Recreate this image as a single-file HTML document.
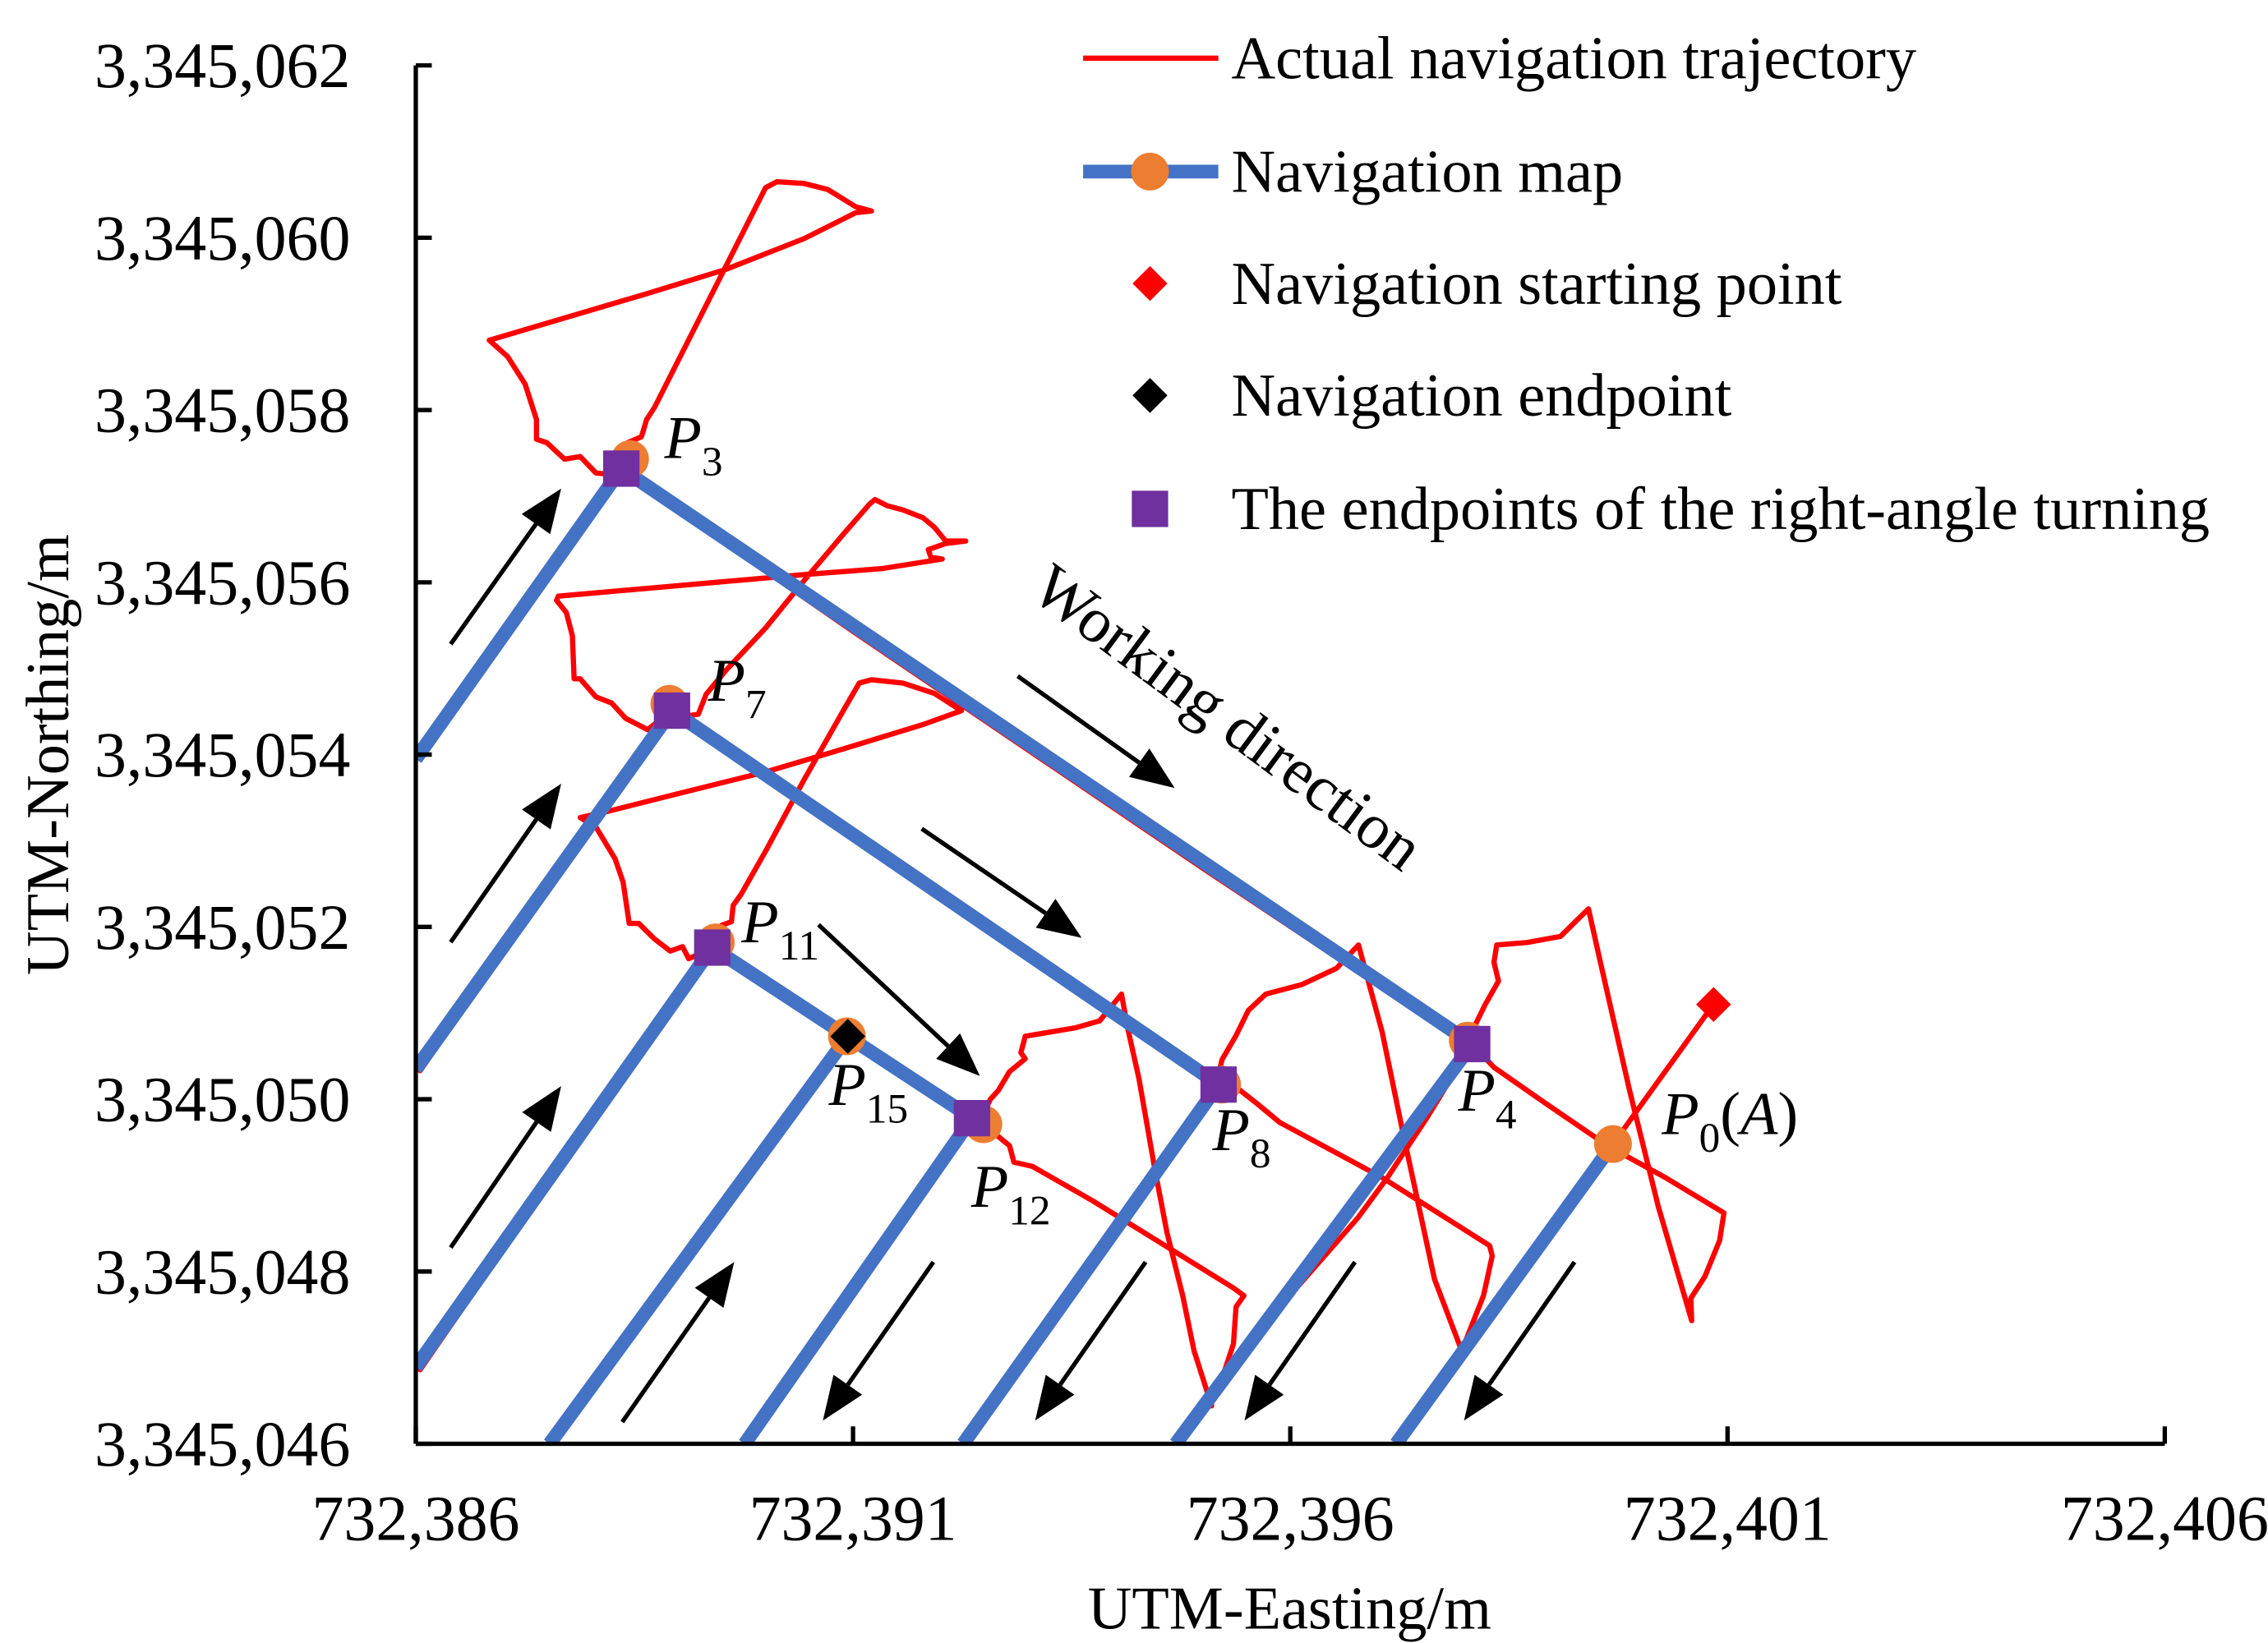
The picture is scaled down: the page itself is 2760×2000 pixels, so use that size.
<!DOCTYPE html>
<html><head><meta charset="utf-8"><style>
html,body{margin:0;padding:0;background:#fff;}
svg{display:block;font-family:"Liberation Serif",serif;}
</style></head><body>
<svg id="chart" xmlns="http://www.w3.org/2000/svg" width="2760" height="2000" viewBox="0 0 1560 1130" preserveAspectRatio="none">
<g id="plot"></g>
<g id="axes"></g>
<g id="legend"></g>
</svg>
<script>
const E0 = 732386, N0 = 3345046;
const xTicks = [732386, 732391, 732396, 732401, 732406];
const xTickLabels = ["732,386","732,391","732,396","732,401","732,406"];
const yTicks = [3345046,3345048,3345050,3345052,3345054,3345056,3345058,3345060,3345062];
const yTickLabels = ["3,345,046","3,345,048","3,345,050","3,345,052","3,345,054","3,345,056","3,345,058","3,345,060","3,345,062"];
// actual trajectory offsets (m from E0/N0), null = break
const trajE = [14.84,13.69,11.96,11.65,11.28,11.05,10.78,10.53,10.13,9.72,9.52,9.38,9.22,9.15,7.72,6.26,null,
9.18,9.38,9.62,9.88,11.05,12.28,12.31,12.21,11.96,null,
12.08,12.10,12.23,12.38,12.33,12.36,12.71,13.09,13.26,13.41,13.54,13.88,14.21,14.59,14.58,14.74,14.91,14.96,14.29,13.63,12.88,12.33,12.08,11.56,11.11,10.77,9.65,null,
2.35,5.0,9.0,12.08,null,
6.36,6.49,6.79,6.84,7.05,7.74,9.35,9.47,9.38,9.35,9.22,9.08,9.10,8.90,8.77,8.59,8.45,8.27,8.14,8.07,7.82,7.55,6.97,6.92,6.97,6.79,6.66,6.57,6.47,6.36,5.22,3.76,null,
2.42,2.42,2.58,2.64,2.73,4.00,4.13,4.44,4.71,5.03,5.21,5.03,4.44,3.54,2.64,1.74,0.84,1.05,1.25,1.38,1.38,1.50,1.70,1.88,2.06,2.24,2.35,null,
2.93,2.65,2.40,2.24,2.06,1.88,1.81,1.79,1.72,1.61,1.63,3.09,4.44,5.34,6.02,5.89,5.86,6.06,6.29,6.06,5.93,5.80,5.57,5.39,5.25,5.19,4.90,4.44,4.00,3.54,3.32,3.23,3.05,2.94,null,
3.39,3.12,3.05,2.91,2.73,2.55,2.44,2.37,2.28,2.06,1.88,2.19,3.09,4.00,4.90,5.80,6.24,5.93,5.57,5.21,5.07,4.90,4.44,4.00,3.72,3.63,3.61,3.50,3.45,3.39,null,
3.39,4.94,6.36,null,0.05,2.33,null,0.05,2.90,null,0.05,3.36];
const trajN = [5.10,3.48,1.08,1.91,3.65,4.78,5.79,5.52,5.33,5.22,5.03,4.74,4.46,4.17,2.08,0,null,
4.17,4.14,3.95,3.73,3.09,2.30,2.18,1.72,1.08,null,
4.64,4.83,5.10,5.37,5.59,5.79,5.82,5.89,6.06,6.21,5.62,4.10,2.75,1.43,1.69,1.94,2.36,2.68,3.09,3.46,3.98,4.37,4.64,3.78,3.09,2.62,1.32,null,
11.29,9.43,6.68,4.60,null,
3.78,3.71,3.46,3.27,3.22,2.82,1.81,1.72,1.59,1.16,0.76,0.61,0.44,1.08,1.72,2.45,3.19,4.24,4.83,5.22,4.91,4.83,4.73,4.54,4.47,4.32,4.10,4.00,3.78,3.75,2.08,0,null,
11.34,11.62,11.69,11.89,12.03,14.58,14.65,14.63,14.56,14.36,14.31,14.29,13.99,13.63,13.35,13.08,12.81,12.62,12.30,11.89,11.66,11.62,11.43,11.46,11.27,11.25,11.32,null,
8.51,8.29,8.42,8.60,8.67,8.88,8.88,9.38,9.65,9.79,9.84,9.97,10.09,10.16,10.27,10.29,10.38,10.45,10.48,10.48,10.64,10.75,10.84,10.89,10.96,10.91,10.57,10.02,9.47,8.97,8.70,8.47,8.44,8.35,null,
5.76,5.63,5.77,5.72,5.86,6.04,6.04,6.52,6.79,7.16,7.27,7.34,7.57,7.80,8.07,8.35,8.51,8.71,8.83,8.87,8.83,8.53,7.71,6.88,6.38,6.25,6.06,6.02,5.74,5.76,null,
5.72,4.68,3.74,null,7.95,11.27,null,4.33,8.47,null,0.86,5.72];
// navigation map polylines
const mapE = [0,2.35,12.08,8.69,null,0,2.93,9.18,6.26,null,0,3.39,6.36,3.76,null,4.94,1.53,null,13.69,11.21];
const mapN = [7.95,11.32,4.64,0,null,4.35,8.51,4.17,0,null,0.89,5.76,3.78,0,null,4.73,0,null,3.48,0];
const waypointE = [2.45,2.90,3.43,4.93,6.49,9.22,12.03,13.69];
const waypointN = [11.43,8.59,5.82,4.73,3.71,4.17,4.68,3.48];
const turnE = [2.35,2.93,3.39,6.36,9.18,12.08];
const turnN = [11.32,8.51,5.76,3.78,4.17,4.64];
const startE = [14.84], startN = [5.10];
const endE = [4.94], endN = [4.73];

const NS = "http://www.w3.org/2000/svg";
const X0=286, X1=1489, Y0=993, Y1=45;
function xs(e){ return X0 + e / 20 * (X1 - X0); }
function ys(n){ return Y0 - n / 16 * (Y0 - Y1); }
function mk(tag, attrs, parent){ const el=document.createElementNS(NS,tag); for(const k in attrs) el.setAttribute(k,attrs[k]); parent.appendChild(el); return el; }
const plot=document.getElementById('plot'), axes=document.getElementById('axes'), legend=document.getElementById('legend');

function pathFrom(E,N){ let d="", pen=false; for(let i=0;i<E.length;i++){ if(E[i]===null){pen=false;continue;} d+=(pen?"L":"M")+xs(E[i]).toFixed(1)+","+ys(N[i]).toFixed(1); pen=true;} return d; }

const clip=mk('clipPath',{id:'pc'},plot); mk('rect',{x:X0,y:0,width:X1-X0,height:Y0},clip);
const gClip=mk('g',{'clip-path':'url(#pc)'},plot);
const traj=mk('path',{d:pathFrom(trajE,trajN),fill:'none',stroke:'#ff0000','stroke-width':3.6,'stroke-linejoin':'round','stroke-linecap':'round'},gClip);


const mp=mk('path',{d:pathFrom(mapE,mapN),fill:'none',stroke:'#4472c4','stroke-width':9.5,'stroke-linejoin':'miter'},gClip);



function arrow(x1,y1,x2,y2,name){
  const g=mk('g',{},plot);
  
  
  const dx=x2-x1, dy=y2-y1, L=Math.hypot(dx,dy), ux=dx/L, uy=dy/L, hl=30, hw=12;
  const bx=x2-ux*hl, by=y2-uy*hl;
  mk('line',{x1:x1,y1:y1,x2:bx,y2:by,stroke:'#000','stroke-width':3},g);
  mk('polygon',{points:`${x2},${y2} ${bx-uy*hw},${by+ux*hw} ${bx+uy*hw},${by-ux*hw}`,fill:'#000'},g);
}
arrow(310,443,386,336,'arrow-up-1'); arrow(310,648,386,539,'arrow-up-2'); arrow(310,858,386,747,'arrow-up-3'); arrow(428,978,505,868,'arrow-up-4');
arrow(700,465,808,542,'arrow-work-1'); arrow(634,570,744,645,'arrow-work-2'); arrow(563,636,674,740,'arrow-work-3');
arrow(642,868,566,977,'arrow-down-1'); arrow(788,868,712,977,'arrow-down-2'); arrow(932,868,856,977,'arrow-down-3'); arrow(1083,868,1007,977,'arrow-down-4');

for(let i=0;i<waypointE.length;i++){
  const c=mk('circle',{cx:xs(waypointE[i]),cy:ys(waypointN[i]),r:13,fill:'#ed7d31'},plot);
  
  
}
for(let i=0;i<turnE.length;i++){
  const s=mk('rect',{x:xs(turnE[i])-12.5,y:ys(turnN[i])-12.5,width:25,height:25,fill:'#7030a0'},plot);
  
  
}
function diamond(x,y,r,fill,parent){ return mk('polygon',{points:`${x},${y-r} ${x+r},${y} ${x},${y+r} ${x-r},${y}`,fill:fill},parent); }
const sd=diamond(xs(startE[0]),ys(startN[0]),12,'#ff0000',plot);


const ed=diamond(xs(endE[0]),ys(endN[0]),12,'#000',plot);



const plabels=[["3",457,315],["7",487,482],["11",510,648],["15",570,760],["12",668,830],["8",834,791],["4",1003,764]];
plabels.forEach(p=>{
  const t=mk('text',{x:p[1],y:p[2],'font-size':42,'font-style':'italic',fill:'#000'},plot);
  
  
  t.innerHTML='P<tspan font-style="normal" font-size="29" dy="12">'+p[0]+'</tspan>';
});
const p0=mk('text',{x:1143,y:780,'font-size':42,fill:'#000'},plot);


p0.innerHTML='<tspan font-style="italic">P</tspan><tspan font-size="29" dy="12">0</tspan><tspan dy="-12">(</tspan><tspan font-style="italic">A</tspan>)';
const wd=mk('text',{x:0,y:0,'font-size':44,fill:'#000','text-anchor':'middle',transform:'translate(836,505) rotate(36.5)'},plot);


wd.textContent='Working direction';

mk('line',{x1:X0,y1:Y1,x2:X0,y2:Y0,stroke:'#000','stroke-width':3},axes);
mk('line',{x1:X0,y1:Y0,x2:X1,y2:Y0,stroke:'#000','stroke-width':3},axes);
xTicks.forEach((v,i)=>{
  const x=xs(v-E0);
  mk('line',{x1:x,y1:Y0,x2:x,y2:Y0-12,stroke:'#000','stroke-width':3},axes);
  const t=mk('text',{x:x,y:1059,'font-size':44,'text-anchor':'middle',fill:'#000'},axes);
  
  
  t.textContent=xTickLabels[i];
});
yTicks.forEach((v,i)=>{
  const y=ys(v-N0);
  mk('line',{x1:X0,y1:y,x2:X0+11,y2:y,stroke:'#000','stroke-width':3},axes);
  const t=mk('text',{x:241,y:y+15,'font-size':44,'text-anchor':'end',fill:'#000'},axes);
  
  
  t.textContent=yTickLabels[i];
});
const xt=mk('text',{x:887,y:1120,'font-size':42,'text-anchor':'middle',fill:'#000'},axes);


xt.textContent='UTM-Easting/m';
const yt=mk('text',{x:0,y:0,'font-size':42,'text-anchor':'middle',fill:'#000',transform:'translate(47,519) rotate(-90)'},axes);


yt.textContent='UTM-Northing/m';

const legTexts=["Actual navigation trajectory","Navigation map","Navigation starting point","Navigation endpoint","The endpoints of the right-angle turning"];
const legY=[40,118,195,272,350];
legTexts.forEach((s,i)=>{
  const g=mk('g',{},legend);
  
  
  const y=legY[i];
  if(i===0) mk('line',{x1:745,y1:y,x2:838,y2:y,stroke:'#ff0000','stroke-width':3.6},g);
  if(i===1){ mk('line',{x1:745,y1:y,x2:838,y2:y,stroke:'#4472c4','stroke-width':9.5},g); mk('circle',{cx:791,cy:y,r:13,fill:'#ed7d31'},g); }
  if(i===2) diamond(791,y,12,'#ff0000',g);
  if(i===3) diamond(791,y,12,'#000',g);
  if(i===4) mk('rect',{x:778.5,y:y-12.5,width:25,height:25,fill:'#7030a0'},g);
  const t=mk('text',{x:847,y:y+14,'font-size':42,fill:'#000'},g);
  t.textContent=s;
});
</script>
</body></html>
